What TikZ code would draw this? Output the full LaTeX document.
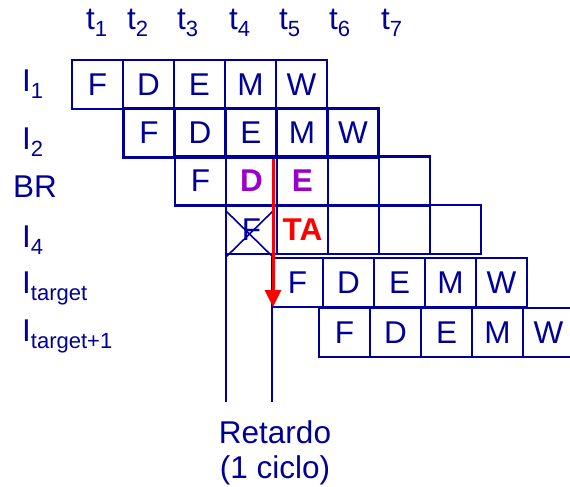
\documentclass[tikz,border=0pt]{standalone}
\usepackage{fontspec}
\setmainfont{Liberation Sans}
\usetikzlibrary{arrows.meta}
\definecolor{pipeblue}{RGB}{0,0,153}
\definecolor{brpurple}{RGB}{153,0,204}
\definecolor{tared}{RGB}{255,0,0}
\newcommand{\sbs}[1]{\raisebox{-7pt}{\fontsize{22}{22}\selectfont #1}}
\newcommand{\lowM}{\raisebox{-5pt}{M}}
\newcommand{\brst}[1]{\textcolor{brpurple}{\bfseries #1}}
\newcommand{\tast}{\textcolor{tared}{\bfseries TA}}

\begin{document}
\begin{tikzpicture}[x=1pt,y=-1pt,>=Latex,
    every node/.style={text=pipeblue,font=\fontsize{31.5}{34}\selectfont},
    cell/.style={draw=pipeblue,line width=2.2pt,minimum width=51pt,minimum height=49pt,inner sep=0pt,outer sep=0pt},
    lbl/.style={anchor=base west,inner sep=0pt},
    wire/.style={draw=pipeblue,line width=2pt}]
  \useasboundingbox (0,0) rectangle (570,487);
  % time steps
  \foreach \i/\x in {1/86,2/127,3/177,4/229,5/279,6/329,7/381}
    \node[lbl] (t\i) at (\x,30) {t\sbs{\i}};
  % instructions
  \node[lbl] (in1) at (22,91) {I\sbs{1}};
  \node[lbl] (in2) at (22,149) {I\sbs{2}};
  \node[lbl] (inbr) at (13,197) {BR};
  \node[lbl] (in4) at (22,247) {I\sbs{4}};
  \node[lbl] (intg) at (22,293) {I\sbs{target}};
  \node[lbl] (intg1) at (22,341) {I\sbs{target+1}};
  % pipeline stages
  \foreach \row/\xa/\ya/\cells in {a/72/60/{F,D,E,\lowM,W},
      b/123.5/108.5/{F,D,E,\lowM,W},
      c/175/156.5/{F,\brst{D},\brst{E},{},{}},
      d/226/205/{F,\tast,{},{},{}},
      e/272/258/{F,D,E,\lowM,W},
      f/319/308/{F,D,E,\lowM,W}}
    \foreach \txt [count=\k] in \cells
      \node[cell] (\row\k) at (\xa+51*\k-25.5,\ya+24.5) {\txt};
  % flushed fetch
  \draw[wire,line width=1.6pt] ([yshift=-6pt]d1.north west) -- ([xshift=-4pt,yshift=-3pt]d1.south east);
  \draw[wire,line width=1.6pt] ([xshift=-4pt,yshift=-6pt]d1.north east) -- ([yshift=-3pt]d1.south west);
  % delay
  \coordinate (lo1) at (226,402);
  \coordinate (lo2) at (272,402);
  \draw[wire] (d1.south west) -- (lo1);
  \draw[wire] (e1.south west) -- (lo2);
  \draw[-{Triangle[width=16pt,length=17pt]},draw=tared,line width=3pt] ([xshift=-4pt,yshift=-2pt]c2.north east) -- ([xshift=1pt]e1.south west);
  \node[anchor=base] (ret) at (275,443) {Retardo};
  \node[anchor=base] (cic) at (275,478) {(1 ciclo)};
\end{tikzpicture}
\end{document}
